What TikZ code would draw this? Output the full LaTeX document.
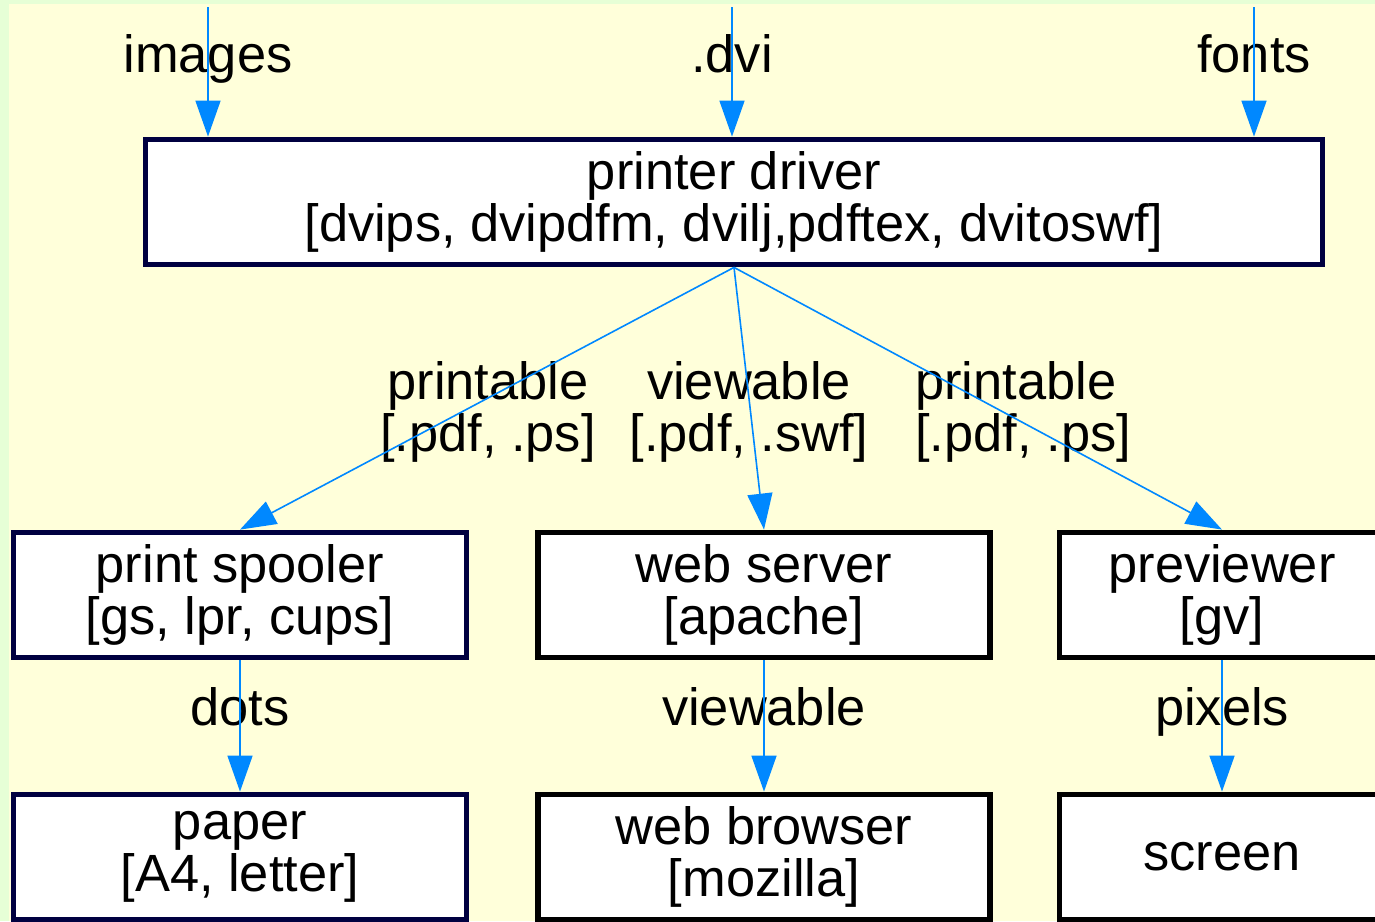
\documentclass[tikz,border=0pt]{standalone}
\usepackage{fontspec}
\setmainfont{Liberation Sans}
\usepackage{xcolor}
\usetikzlibrary{arrows.meta, positioning}

\definecolor{bggreen}{RGB}{230,255,214}
\definecolor{bgyellow}{RGB}{255,255,218}
\definecolor{navy}{RGB}{0,0,64}
\definecolor{flow}{RGB}{0,136,255}

\begin{document}
\begin{tikzpicture}[
    x = 0.5pt, y = -0.5pt,
    font = \fontsize{26.2}{26}\selectfont,
    box/.style = {draw=navy, line width=2.9pt, fill=white, inner sep=0pt,
                  align=center, minimum height=62.5pt},
    boxblk/.style = {box, draw=black},
    every edge/.style = {draw=flow, line width=0.8pt,
                         -{Triangle[length=18pt, width=12.5pt]}},
    lbl/.style = {inner sep=0pt, align=center},
                    ]
    \useasboundingbox (0,0) rectangle (1375,921);
    \clip (0,0) rectangle (1375,921);
    \fill[bggreen]  (0,0) rectangle (1375,921);
    \fill[bgyellow] (9,4) rectangle (1375,921);

    \node (drv) [box, minimum width=588.5pt] at (734,202)
        {printer driver\\{}[dvips, dvipdfm, dvilj,pdftex, dvitoswf]};
    \node (spool) [box, minimum width=226.5pt] at (240,595)
        {print spooler\\{}[gs, lpr, cups]};
    \node (web) [boxblk, minimum width=226pt] at (764,595)
        {web server\\{}[apache]};
    \node (prev) [boxblk, minimum width=162.5pt] at (1222,595)
        {previewer\\{}[gv]};
    \node (paper) [box, minimum width=226.5pt] at (240,857)
        {paper\\{}[A4, letter]};
    \node (brow) [boxblk, minimum width=226pt] at (764,857)
        {web browser\\{}[mozilla]};
    \node (scr) [boxblk, minimum width=162.5pt] at (1222,857) {screen};

    % inputs coming in from above
    \coordinate (img) at (208,7);
    \coordinate (dvi) at (732,7);
    \coordinate (fnt) at (1254,7);
    \node (limg) [lbl, anchor=base] at (208,72)  {images};
    \node (ldvi) [lbl, anchor=base] at (732,72)  {.dvi};
    \node (lfnt) [lbl, anchor=base] at (1254,72) {fonts};

    % edge labels
    \node (lpr1) [lbl] at (488,412)  {printable\\{}[.pdf, .ps]};
    \node (lview) [lbl] at (749,412) {viewable\\{}[.pdf, .swf]};
    \node (lpr2) [lbl, align=left, anchor=west] at (915,412)
        {printable\\{}[.pdf, .ps]};
    \node (ldots) [lbl, anchor=base] at (240,725)   {dots};
    \node (lvw) [lbl, anchor=base] at (764,725)     {viewable};
    \node (lpix) [lbl, anchor=base] at (1222,725)   {pixels};

    \draw   (img) edge (img |- drv.north)
            (dvi) edge (dvi |- drv.north)
            (fnt) edge (fnt |- drv.north)
            (drv.south) edge (spool.north)
            (drv.south) edge (web.north)
            (drv.south) edge (prev.north)
            (spool) edge (paper)
            (web)   edge (brow)
            (prev)  edge (scr);
\end{tikzpicture}
\end{document}
